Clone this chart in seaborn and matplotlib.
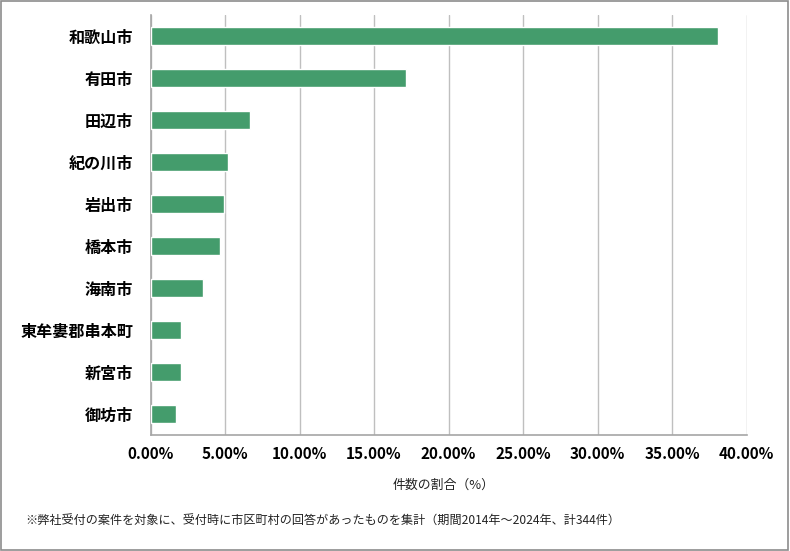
import matplotlib
matplotlib.use("Agg")
import matplotlib.pyplot as plt
import seaborn as sns
import pandas as pd
from matplotlib.ticker import FuncFormatter
from matplotlib.patches import Rectangle

categories = ["和歌山市", "有田市", "田辺市", "紀の川市", "岩出市", "橋本市", "海南市",
              "東牟婁郡串本町", "新宮市", "御坊市"]
shares = [38.08, 17.15, 6.69, 5.23, 4.94, 4.65, 3.49, 2.03, 2.03, 1.74]
xticks = [0, 5, 10, 15, 20, 25, 30, 35, 40]
xlabel = "件数の割合（%）"
footnote = "※弊社受付の案件を対象に、受付時に市区町村の回答があったものを集計（期間2014年～2024年、計344件）"

sns.set_theme(style="white")
plt.rcParams['font.family'] = ['Noto Sans CJK JP', 'DejaVu Sans']

df = pd.DataFrame({"市区町村": categories, "割合": shares})

fig = plt.figure(figsize=(7.9, 5.51), dpi=100)
ax = fig.add_axes([150.5/790, 1-435/551, (746.5-150.5)/790, (435-15)/551])

sns.barplot(data=df, y="市区町村", x="割合", orient="h", color="#449C6C",
            saturation=1, width=0.43, ax=ax, zorder=3)

ax.set_xlim(0, 40)
ax.set_xticks(xticks)
ax.xaxis.set_major_formatter(FuncFormatter(lambda v, p: f"{v:.2f}%"))
ax.grid(axis="x", color="#BFBFBF", linewidth=1, zorder=0)
ax.set_axisbelow(True)
for s in ["top", "right"]:
    ax.spines[s].set_visible(False)
for s in ["left", "bottom"]:
    ax.spines[s].set_color("#A6A6A6")
    ax.spines[s].set_linewidth(1.2)
ax.tick_params(axis="both", length=0)
ax.tick_params(axis="x", pad=8)
ax.tick_params(axis="y", pad=12.5)
for lab in ax.get_xticklabels():
    lab.set_fontweight("bold")
    lab.set_fontsize(11)
    lab.set_color("black")
for lab in ax.get_yticklabels():
    lab.set_fontweight("bold")
    lab.set_fontsize(11.6)
    lab.set_color("black")
ax.set_ylabel("")
ax.set_xlabel(xlabel, fontsize=9.3, color="#222222")
ax.xaxis.set_label_coords((444 - 150.5)/596, -44/420)

fig.text(25/790, 1-521/551, footnote, fontsize=8.7, color="#222222", va="center", ha="left")

fig.patches.append(Rectangle((0.001, 0.001), 0.997, 0.997, transform=fig.transFigure,
                             fill=False, edgecolor="#8C8C8C", linewidth=1.2))

fig.savefig("out.png", dpi=100)
